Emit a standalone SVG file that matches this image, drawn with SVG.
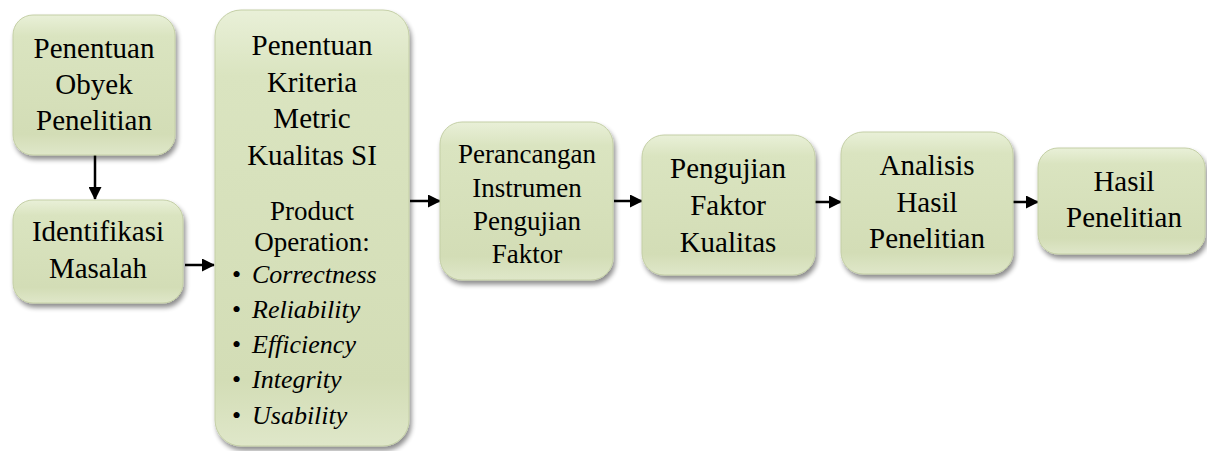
<svg xmlns="http://www.w3.org/2000/svg" width="1207" height="451" viewBox="0 0 1207 451">
<style>
.box{fill:url(#g);stroke:#c4cfa6;stroke-width:1;filter:url(#sh)}
text{font-family:'Liberation Serif','Times New Roman',serif;font-size:29px;fill:#000;text-anchor:middle}
.s{font-size:27px}
.b{font-size:26px}
.i{font-style:italic}
.l{text-anchor:start}
.c{stroke:#000;stroke-width:2.5;fill:none;marker-end:url(#ah)}
</style>
<defs>
<linearGradient id="g" x1="0" y1="0" x2="0" y2="1">
<stop offset="0" stop-color="#e9f0d8"/>
<stop offset="0.15" stop-color="#dae4c0"/>
<stop offset="0.85" stop-color="#d3ddb6"/>
<stop offset="1" stop-color="#dfe7c9"/>
</linearGradient>
<filter id="sh" x="-10%" y="-10%" width="125%" height="125%">
<feGaussianBlur in="SourceAlpha" stdDeviation="2.5"/>
<feOffset dx="2" dy="4" result="b"/>
<feComponentTransfer><feFuncA type="linear" slope="0.45"/></feComponentTransfer>
<feMerge><feMergeNode/><feMergeNode in="SourceGraphic"/></feMerge>
</filter>
<marker id="ah" markerWidth="13" markerHeight="13" refX="12" refY="6.5" orient="auto" markerUnits="userSpaceOnUse">
<path d="M0,0 L13,6.5 L0,13 z" fill="#000"/>
</marker>
</defs>
<g id="connectors">
<path class="c" d="M95,155 V199"/>
<path class="c" d="M185,265 H214"/>
<path class="c" d="M410,201 H440"/>
<path class="c" d="M614,201 H642"/>
<path class="c" d="M815,202 H841"/>
<path class="c" d="M1013,202 H1038"/>
</g>
<g id="n1">
<rect class="box" x="13" y="15" width="162" height="140" rx="20"/>
<text x="94" y="58">Penentuan</text>
<text x="94" y="94">Obyek</text>
<text x="94" y="130">Penelitian</text>
</g>
<g id="n2">
<rect class="box" x="13" y="200" width="170" height="103" rx="20"/>
<text x="98" y="241">Identifikasi</text>
<text x="98" y="278">Masalah</text>
</g>
<g id="n3">
<rect class="box" x="215" y="10" width="194" height="436" rx="26"/>
<text x="312" y="55">Penentuan</text>
<text x="312" y="92">Kriteria</text>
<text x="312" y="128">Metric</text>
<text x="312" y="165">Kualitas SI</text>
<text class="s" x="312" y="220">Product</text>
<text class="s" x="312" y="251">Operation:</text>
<text class="b l" x="232" y="283">•</text><text class="b i l" x="252" y="283">Correctness</text>
<text class="b l" x="232" y="318">•</text><text class="b i l" x="252" y="318">Reliability</text>
<text class="b l" x="232" y="353">•</text><text class="b i l" x="252" y="353">Efficiency</text>
<text class="b l" x="232" y="388">•</text><text class="b i l" x="252" y="388">Integrity</text>
<text class="b l" x="232" y="424">•</text><text class="b i l" x="252" y="424">Usability</text>
</g>
<g id="n4">
<rect class="box" x="440" y="122" width="173" height="158" rx="22"/>
<text class="s" x="527" y="163">Perancangan</text>
<text class="s" x="527" y="197">Instrumen</text>
<text class="s" x="527" y="230">Pengujian</text>
<text class="s" x="527" y="263">Faktor</text>
</g>
<g id="n5">
<rect class="box" x="642" y="135" width="173" height="140" rx="22"/>
<text x="728" y="178">Pengujian</text>
<text x="728" y="215">Faktor</text>
<text x="728" y="252">Kualitas</text>
</g>
<g id="n6">
<rect class="box" x="841" y="132" width="172" height="142" rx="22"/>
<text x="927" y="175">Analisis</text>
<text x="927" y="212">Hasil</text>
<text x="927" y="248">Penelitian</text>
</g>
<g id="n7">
<rect class="box" x="1038" y="148" width="167" height="106" rx="20"/>
<text x="1124" y="191">Hasil</text>
<text x="1124" y="227">Penelitian</text>
</g>
</svg>
